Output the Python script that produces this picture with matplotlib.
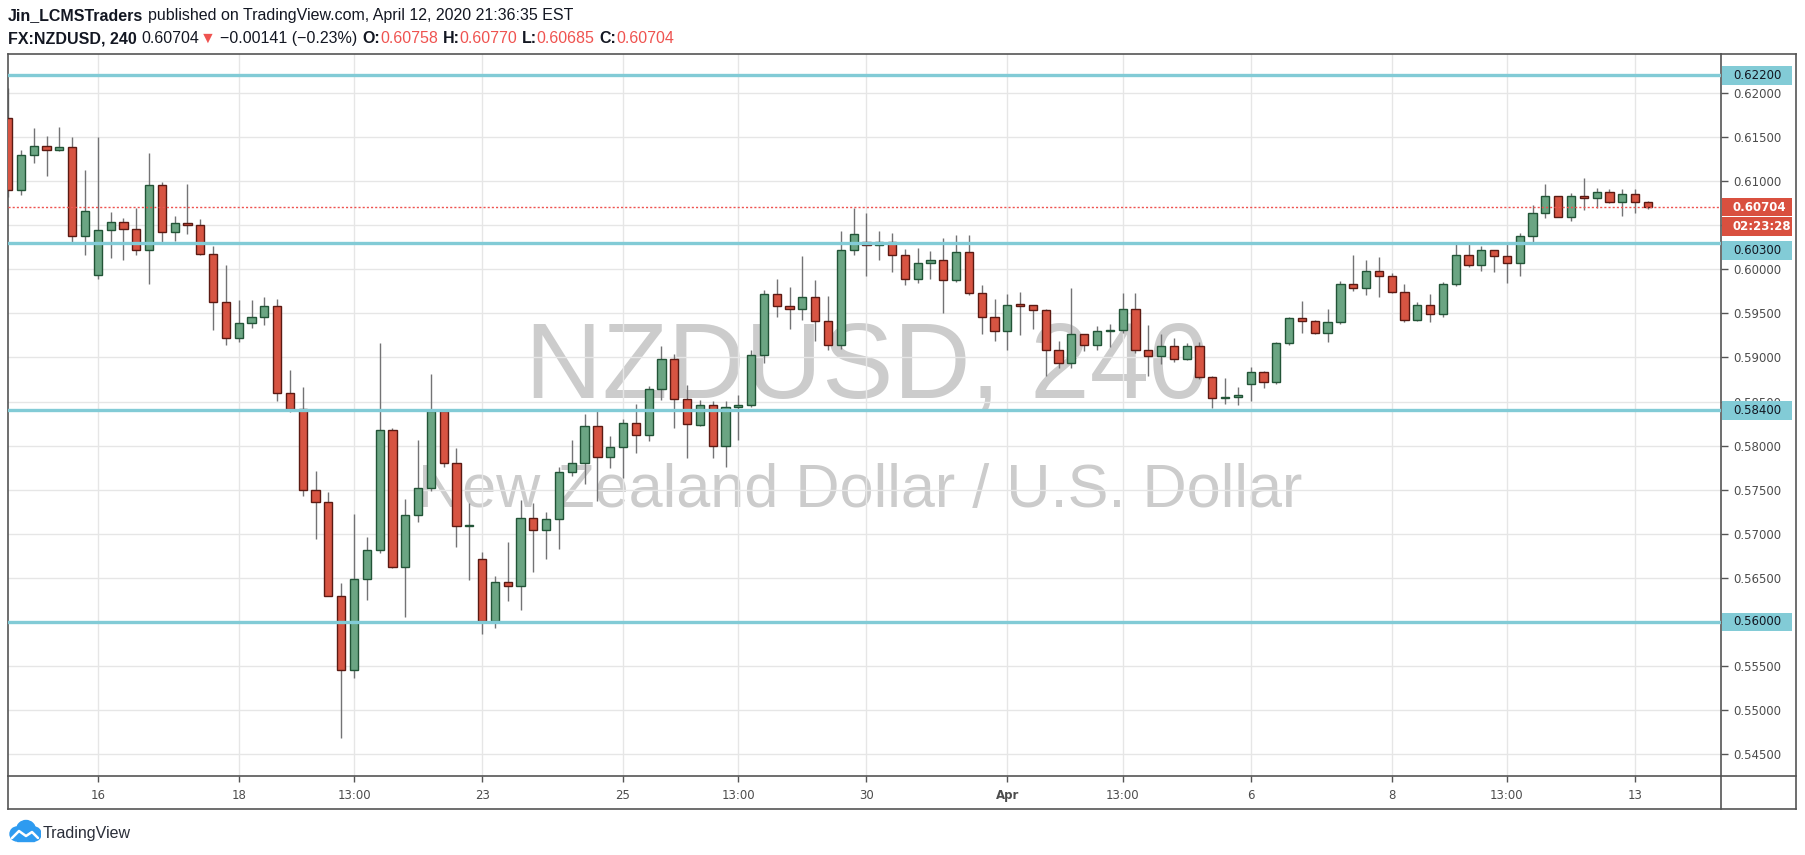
import numpy as np
import matplotlib.pyplot as plt
import matplotlib.transforms as mtransforms
from matplotlib.patches import Rectangle, Circle
from matplotlib.lines import Line2D

W, H = 1805, 855

# 4H candles, FX:NZDUSD
opens = [0.61711, 0.60896, 0.61291, 0.61402, 0.61357, 0.61382, 0.60375, 0.59934, 0.60440, 0.60532,
         0.60451, 0.60223, 0.60952, 0.60420, 0.60521, 0.60506, 0.60177, 0.59625, 0.59220, 0.59387,
         0.59453, 0.59580, 0.58592, 0.58420, 0.57494, 0.57357, 0.56299, 0.55453, 0.56486, 0.56820,
         0.58172, 0.56618, 0.57210, 0.57514, 0.58390, 0.57808, 0.57089, 0.56719, 0.56015, 0.56451,
         0.56405, 0.57175, 0.57043, 0.57165, 0.57706, 0.57808, 0.58218, 0.57868, 0.57980, 0.58253,
         0.58117, 0.58638, 0.58987, 0.58532, 0.58238, 0.58466, 0.57990, 0.58436, 0.58466, 0.59033,
         0.59716, 0.59580, 0.59544, 0.59681, 0.59408, 0.59144, 0.60223, 0.60304, 0.60278, 0.60304,
         0.60167, 0.59884, 0.60076, 0.60101, 0.59873, 0.60192, 0.59727, 0.59463, 0.59296, 0.59600,
         0.59590, 0.59534, 0.59089, 0.58932, 0.59261, 0.59144, 0.59296, 0.59316, 0.59554, 0.59089,
         0.59013, 0.59124, 0.58977, 0.59124, 0.58775, 0.58537, 0.58552, 0.58704, 0.58830, 0.58719,
         0.59160, 0.59443, 0.59418, 0.59281, 0.59397, 0.59828, 0.59782, 0.59985, 0.59919, 0.59737,
         0.59428, 0.59590, 0.59489, 0.59828, 0.60167, 0.60046, 0.60213, 0.60147, 0.60076, 0.60375,
         0.60638, 0.60835, 0.60597, 0.60835, 0.60805, 0.60881, 0.60759, 0.60851, 0.60758]
highs = [0.62050, 0.61352, 0.61600, 0.61514, 0.61615, 0.61499, 0.61124, 0.61499, 0.60648, 0.60582,
         0.60694, 0.61316, 0.60992, 0.60603, 0.60967, 0.60572, 0.60258, 0.60051, 0.59651, 0.59651,
         0.59686, 0.59661, 0.58856, 0.58663, 0.57711, 0.57474, 0.56441, 0.57225, 0.56962, 0.59165,
         0.58198, 0.57393, 0.58066, 0.58810, 0.58415, 0.57975, 0.57347, 0.56795, 0.56522, 0.56906,
         0.57382, 0.57347, 0.57246, 0.57757, 0.58066, 0.58360, 0.58390, 0.58111, 0.58304, 0.58471,
         0.58679, 0.59129, 0.59038, 0.58684, 0.58517, 0.58501, 0.58501, 0.58572, 0.59084, 0.59767,
         0.59889, 0.59797, 0.60152, 0.59878, 0.59696, 0.60435, 0.60699, 0.60638, 0.60435, 0.60410,
         0.60228, 0.60243, 0.60208, 0.60354, 0.60390, 0.60390, 0.59823, 0.59661, 0.59716, 0.59742,
         0.59600, 0.59554, 0.59185, 0.59782, 0.59261, 0.59357, 0.59377, 0.59732, 0.59732, 0.59367,
         0.59266, 0.59220, 0.59160, 0.59175, 0.58785, 0.58765, 0.58663, 0.58891, 0.58851, 0.59175,
         0.59458, 0.59641, 0.59428, 0.59549, 0.59868, 0.60162, 0.60106, 0.60142, 0.59954, 0.59828,
         0.59630, 0.59716, 0.59858, 0.60309, 0.60309, 0.60263, 0.60223, 0.60284, 0.60410, 0.60724,
         0.60967, 0.60835, 0.60861, 0.61033, 0.60921, 0.60906, 0.60911, 0.60911, 0.60770]
lows = [0.60820, 0.60846, 0.61200, 0.61063, 0.61337, 0.60294, 0.60167, 0.59894, 0.60122, 0.60101,
        0.60157, 0.59838, 0.60304, 0.60324, 0.60405, 0.60157, 0.59311, 0.59144, 0.59180, 0.59337,
        0.59362, 0.58511, 0.58385, 0.57433, 0.56937, 0.56290, 0.54679, 0.55367, 0.56248, 0.56785,
        0.56610, 0.56061, 0.57134, 0.57489, 0.57757, 0.56846, 0.56471, 0.55858, 0.55934, 0.56243,
        0.56132, 0.56572, 0.56709, 0.56830, 0.57651, 0.57560, 0.57367, 0.57742, 0.57636, 0.57919,
        0.58056, 0.58522, 0.58203, 0.57863, 0.58218, 0.57863, 0.57762, 0.58066, 0.58441, 0.58942,
        0.59463, 0.59327, 0.59428, 0.59190, 0.59089, 0.59094, 0.60167, 0.59919, 0.60101, 0.59965,
        0.59823, 0.59843, 0.59894, 0.59499, 0.59860, 0.59711, 0.59261, 0.59190, 0.59089, 0.59251,
        0.59322, 0.58785, 0.58876, 0.58881, 0.59068, 0.59089, 0.59119, 0.59281, 0.59053, 0.58790,
        0.58922, 0.58952, 0.58967, 0.58750, 0.58425, 0.58476, 0.58456, 0.58501, 0.58648, 0.58704,
        0.59144, 0.59276, 0.59261, 0.59180, 0.59382, 0.59757, 0.59711, 0.59681, 0.59727, 0.59397,
        0.59413, 0.59397, 0.59463, 0.59813, 0.60030, 0.59985, 0.59965, 0.59848, 0.59919, 0.60314,
        0.60577, 0.60587, 0.60552, 0.60668, 0.60694, 0.60749, 0.60608, 0.60633, 0.60685]
closes = [0.60896, 0.61291, 0.61402, 0.61357, 0.61382, 0.60375, 0.60658, 0.60440, 0.60532, 0.60451,
          0.60223, 0.60952, 0.60420, 0.60521, 0.60506, 0.60177, 0.59625, 0.59220, 0.59387, 0.59453,
          0.59580, 0.58592, 0.58420, 0.57494, 0.57357, 0.56299, 0.55453, 0.56486, 0.56820, 0.58172,
          0.56618, 0.57210, 0.57514, 0.58390, 0.57808, 0.57089, 0.57094, 0.56015, 0.56451, 0.56405,
          0.57175, 0.57043, 0.57165, 0.57706, 0.57808, 0.58218, 0.57868, 0.57980, 0.58253, 0.58117,
          0.58638, 0.58987, 0.58532, 0.58243, 0.58466, 0.57990, 0.58436, 0.58466, 0.59033, 0.59716,
          0.59580, 0.59544, 0.59681, 0.59408, 0.59144, 0.60223, 0.60395, 0.60278, 0.60304, 0.60167,
          0.59884, 0.60076, 0.60101, 0.59873, 0.60192, 0.59727, 0.59463, 0.59296, 0.59600, 0.59590,
          0.59534, 0.59089, 0.58932, 0.59261, 0.59144, 0.59296, 0.59316, 0.59554, 0.59089, 0.59013,
          0.59124, 0.58977, 0.59124, 0.58775, 0.58537, 0.58552, 0.58572, 0.58830, 0.58719, 0.59160,
          0.59443, 0.59418, 0.59281, 0.59397, 0.59828, 0.59782, 0.59985, 0.59919, 0.59737, 0.59428,
          0.59590, 0.59489, 0.59828, 0.60167, 0.60046, 0.60213, 0.60147, 0.60076, 0.60375, 0.60638,
          0.60835, 0.60597, 0.60835, 0.60805, 0.60881, 0.60759, 0.60851, 0.60758, 0.60704]

levels = [0.62200, 0.60300, 0.58400, 0.56000]   # horizontal lines drawn by the author
last_price = 0.60704
countdown = "02:23:28"

time_ticks = [8, 19, 28, 38, 49, 58, 68, 79, 88, 98, 109, 118, 128]
time_labels = ['16', '18', '13:00', '23', '25', '13:00', '30', 'Apr', '13:00', '6', '8', '13:00', '13']
price_ticks = [0.545, 0.550, 0.555, 0.560, 0.565, 0.570, 0.575, 0.580, 0.585,
               0.590, 0.595, 0.600, 0.605, 0.610, 0.615, 0.620]
hidden_price_labels = [0.605]   # sits under the countdown box

UP, UP_EDGE = '#6BA583', '#225437'
DN, DN_EDGE = '#D75442', '#5B1A13'
WICK = '#737375'
LEVEL = '#82CBD6'
RED = '#EF5350'
FRAME = '#555555'
TXT = '#4C4C4C'


def fx(px):
    return px / W


def fy(py):
    return 1 - py / H


fig = plt.figure(figsize=(W / 100, H / 100), dpi=100)
fig.patch.set_facecolor('white')

# main panel
ax = fig.add_axes([fx(8), fy(776), fx(1721) - fx(8), fy(54) - fy(776)])
ax.set_facecolor('white')
ax.set_xlim(0.99, 134.71)
ax.set_ylim(0.54253, 0.62441)
ppu = 722 / (0.62441 - 0.54253)   # pixels per price unit

x = np.arange(1, len(opens) + 1)
o = np.array(opens)
c = np.array(closes)
h = np.array(highs)
l = np.array(lows)
up = c >= o
body_h = np.maximum(np.abs(c - o), 1.2 / ppu)
body_lo = (o + c) / 2 - body_h / 2

ax.vlines(x, l, h, color=WICK, lw=1.0, zorder=2)
ax.bar(x, body_h, bottom=body_lo, width=0.64,
       color=np.where(up, UP, DN), edgecolor=np.where(up, UP_EDGE, DN_EDGE),
       linewidth=1.0, zorder=3)

for lv in levels:
    ax.axhline(lv, color=LEVEL, lw=2.4, zorder=4)
ax.axhline(last_price, color=RED, lw=1.0, ls=(0, (1.5, 1.5)), zorder=4)

# grid + axes
ax.set_axisbelow(True)
ax.set_xticks(time_ticks)
ax.set_xticklabels(time_labels)
ax.set_yticks(price_ticks)
ax.set_yticklabels(['' if p in hidden_price_labels else f'{p:.5f}' for p in price_ticks])
ax.grid(True, color='#E6E6E6', lw=1.0)
ax.yaxis.tick_right()
ax.tick_params(axis='y', direction='out', length=5, width=1, color=FRAME,
               labelsize=8.5, labelcolor=TXT, pad=4)
ax.tick_params(axis='x', direction='out', length=4, width=1, color=FRAME,
               labelsize=8.5, labelcolor=TXT, pad=5)
for t in ax.get_xticklabels():
    if t.get_text() == 'Apr':
        t.set_fontweight('bold')
for s in ax.spines.values():
    s.set_color(FRAME)
    s.set_linewidth(1.2)

# watermark
ax.text(fx(867), fy(398), 'NZDUSD, 240', transform=fig.transFigure,
        ha='center', va='baseline', fontsize=77, color='#CCCCCC',
        family='Liberation Sans', zorder=0.3)
ax.text(fx(860), fy(506.7), 'New Zealand Dollar / U.S. Dollar', transform=fig.transFigure,
        ha='center', va='baseline', fontsize=44, color='#CCCCCC',
        family='Liberation Sans', zorder=0.3)

# price scale labels
trans = mtransforms.blended_transform_factory(ax.transAxes, ax.transData)
axw = 1721 - 8
bx0 = (1722 - 8) / axw
bw = (1792 - 1722) / axw
tx = (1733 - 8) / axw
bh = 18.5 / ppu


def price_box(center, text, face, tcolor, weight='normal'):
    ax.add_patch(Rectangle((bx0, center - bh / 2), bw, bh, transform=trans,
                           facecolor=face, edgecolor='none', clip_on=False, zorder=6))
    ax.text(tx, center, text, transform=trans, ha='left', va='center', fontsize=8.5,
            color=tcolor, fontweight=weight, clip_on=False, zorder=7)


price_box(levels[0], f'{levels[0]:.5f}', LEVEL, '#131722')
price_box(levels[2], f'{levels[2]:.5f}', LEVEL, '#131722')
price_box(levels[3], f'{levels[3]:.5f}', LEVEL, '#131722')
price_box(last_price, f'{last_price:.5f}', '#D9503F', 'white', 'bold')
price_box(last_price - 19.5 / ppu, countdown, '#D9503F', 'white', 'bold')
price_box(levels[1] - 7.5 / ppu, f'{levels[1]:.5f}', LEVEL, '#131722')

# outer frame pieces around price / time scales
for (x0, y0, x1, y1) in [(1721, 54, 1796, 54), (1796, 54, 1796, 809), (8, 809, 1796, 809),
                         (8, 776, 8, 809), (1721, 776, 1721, 809), (1721, 776, 1796, 776)]:
    fig.add_artist(Line2D([fx(x0), fx(x1)], [fy(y0), fy(y1)], transform=fig.transFigure,
                          color=FRAME, lw=1.2))

# header
fig.canvas.draw()
rend = fig.canvas.get_renderer()
HF = ['Liberation Sans', 'DejaVu Sans']
HS = 11.5
INK = '#131722'


def header_line(parts, ybase):
    xpos = 8
    for text, color, weight, gap in parts:
        t = fig.text(fx(xpos), fy(ybase), text, color=color, fontweight=weight,
                     fontsize=HS, family=HF, ha='left', va='baseline')
        xpos += t.get_window_extent(renderer=rend).width + gap


sp = 4.5
header_line([('Jin_LCMSTraders', INK, 'bold', sp),
             ('published on TradingView.com, April 12, 2020 21:36:35 EST', INK, 'normal', 0)], 20)
header_line([('FX:NZDUSD, 240', INK, 'bold', sp),
             ('0.60704', INK, 'normal', 1),
             ('▼', RED, 'normal', sp),
             ('−0.00141 (−0.23%)', INK, 'normal', sp),
             ('O:', INK, 'bold', 0), ('0.60758', RED, 'normal', sp),
             ('H:', INK, 'bold', 0), ('0.60770', RED, 'normal', sp),
             ('L:', INK, 'bold', 0), ('0.60685', RED, 'normal', sp),
             ('C:', INK, 'bold', 0), ('0.60704', RED, 'normal', 0)], 43)

# TradingView logo
lax = fig.add_axes([fx(8), fy(843), fx(41) - fx(8), fy(819) - fy(843)])
lax.set_xlim(0, 33)
lax.set_ylim(0, 24)
lax.axis('off')
for (cx, cy, r) in [(9, 9, 7), (18, 13, 9.5), (26, 9, 7)]:
    lax.add_patch(Circle((cx, cy), r, color='#2E9BF0'))
lax.add_patch(Rectangle((9, 2), 17, 8, color='#2E9BF0'))
lax.plot([4, 11, 18, 24, 30], [5, 12, 7, 11, 5], color='white', lw=1.8,
         solid_capstyle='round', solid_joinstyle='round')
fig.text(fx(43), fy(838), 'TradingView', fontsize=11.5, color='#2A2E39',
         family='Liberation Sans', ha='left', va='baseline')

fig.savefig('out.png', dpi=100, facecolor='white')
